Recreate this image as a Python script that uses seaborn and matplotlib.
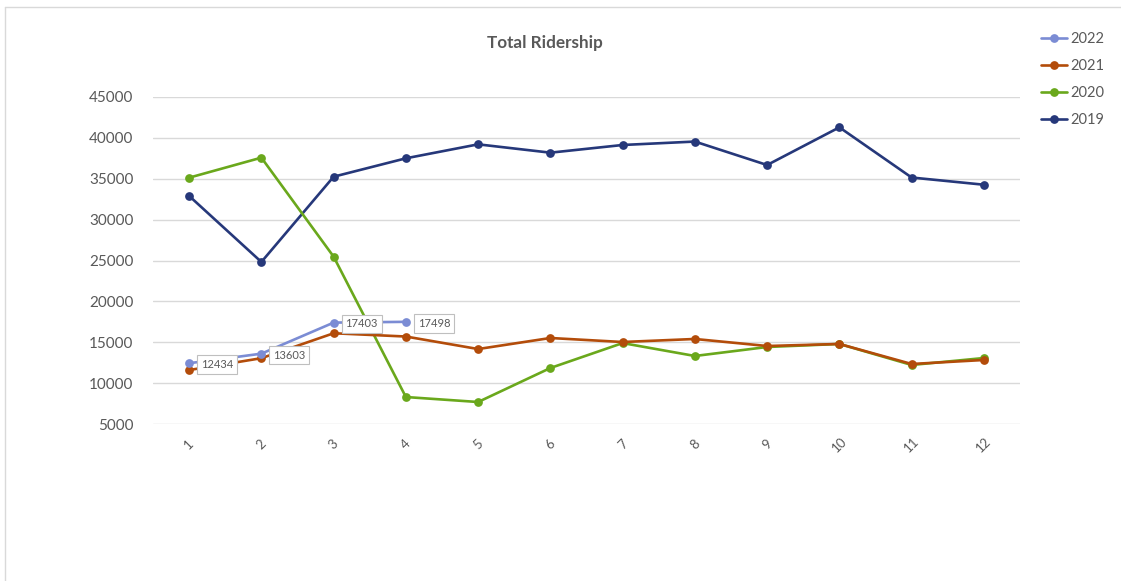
import matplotlib
matplotlib.use("Agg")
import matplotlib.pyplot as plt
import seaborn as sns
import pandas as pd
from matplotlib.lines import Line2D

months = list(range(1, 13))
tick_labels = [str(m) for m in months]
years = ["2022", "2021", "2020", "2019"]
r2022 = [12434, 13603, 17403, 17498]
r2021 = [11600, 13050, 16100, 15700, 14170, 15520, 15030, 15400, 14540, 14790, 12340, 12830]
r2020 = [35130, 37580, 25470, 8300, 7690, 11850, 14900, 13320, 14420, 14790, 12220, 13070]
r2019 = [32900, 24820, 35250, 37500, 39210, 38190, 39130, 39550, 36680, 41290, 35150, 34270]
colors = ["#7B8CD4", "#B34C0A", "#6AA81C", "#26387A"]
series = {"2022": r2022, "2021": r2021, "2020": r2020, "2019": r2019}

rows = []
for y in years:
    for m, v in zip(months, series[y]):
        rows.append({"Month": m, "Riders": v, "Year": y})
df = pd.DataFrame(rows)

sns.set_theme(style="white")
plt.rcParams["font.family"] = ["Lato", "DejaVu Sans"]

fig = plt.figure(figsize=(11.21, 5.81), dpi=100)
ax = fig.add_axes([153 / 1121, (581 - 424) / 581, (1020 - 153) / 1121, (424 - 97) / 581])

palette = dict(zip(years, colors))
for i, y in enumerate(years[::-1]):
    sub = df[df["Year"] == y]
    sns.lineplot(data=sub, x="Month", y="Riders", ax=ax, color=palette[y],
                 marker="o", markersize=6.3, markeredgewidth=0, linewidth=1.9,
                 label=y, zorder=3 + i, legend=False)

ax.set_xlim(0.5, 12.5)
ax.set_ylim(5000, 45000)
ax.set_yticks(range(5000, 45001, 5000))
ax.set_xticks(months)
ax.set_xticklabels(tick_labels, rotation=45, ha="center", va="center",
                   fontsize=9.5, color="#595959")
ax.tick_params(axis="x", pad=15, length=0)
ax.tick_params(axis="y", pad=14, length=0, labelsize=11, labelcolor="#595959")
ax.grid(axis="y", color="#D9D9D9", linewidth=1)
ax.set_axisbelow(True)
for s in ax.spines.values():
    s.set_visible(False)
ax.set_xlabel("")
ax.set_ylabel("")

for m, v in zip(months, r2022):
    ax.annotate(str(v), xy=(m, v), xytext=(8.5, -1), textcoords="offset points",
                ha="left", va="center", fontsize=8, color="#595959", zorder=10,
                bbox=dict(boxstyle="square,pad=0.35", fc="white", ec="#BFBFBF", lw=0.8))

fig.text(545 / 1121, 1 - 43 / 581, "Total Ridership", ha="center", va="center",
         fontsize=12.3, fontweight="bold", color="#595959")

handles = [Line2D([0], [0], color=c, marker="o", markersize=6.3, markeredgewidth=0, linewidth=1.9)
           for c in colors]
fig.legend(handles, years, loc="upper left", bbox_to_anchor=(1041 / 1121, 1 - 32 / 581),
           frameon=False, fontsize=10.5, handlelength=1.8, handletextpad=0.2,
           labelspacing=0.9, labelcolor="#595959", borderaxespad=0, borderpad=0)

fig.add_artist(Line2D([4.5 / 1121, 4.5 / 1121], [0, 1 - 7 / 581], color="#D9D9D9", lw=1,
                      transform=fig.transFigure))
fig.add_artist(Line2D([4.5 / 1121, 1], [1 - 7 / 581, 1 - 7 / 581], color="#D9D9D9", lw=1,
                      transform=fig.transFigure))

fig.savefig("out.png", dpi=100, facecolor="white")
